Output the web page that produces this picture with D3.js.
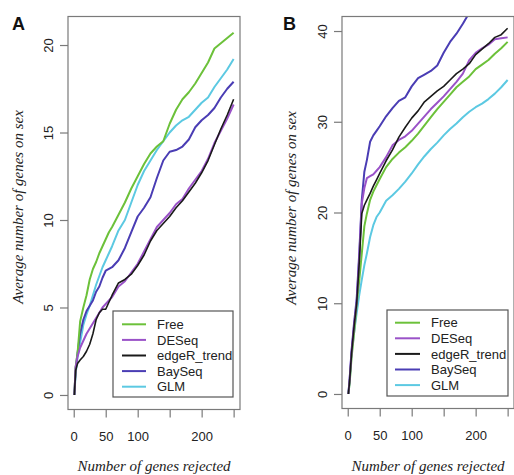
<!DOCTYPE html>
<html>
<head>
<meta charset="utf-8">
<script src="https://cdn.jsdelivr.net/npm/d3@7"></script>
<style>
  html, body { margin: 0; padding: 0; background: #fff; }
  svg { display: block; }
</style>
</head>
<body>
<svg id="chart" width="514" height="475"></svg>
<script>
// ---------------- DATA ----------------
const seriesNames = ["Free", "DESeq", "edgeR_trend", "BaySeq", "GLM"];
const seriesColors = ["#6cc13a", "#9a52c8", "#1a1a1a", "#4a3db4", "#5cc9e2"];

const xTicks = [0, 50, 100, 150, 200, 250];
const xTickLabels = ["0", "50", "100", "", "200", ""];
const yTicksA = [0, 5, 10, 15, 20];
const yTicksB = [0, 10, 20, 30, 40];

// Panel A: number of genes rejected
const xA = [1,3,6,10,15,20,25,30,35,40,45,50,55,60,70,80,90,100,110,120,130,140,150,160,170,180,190,200,210,220,230,240,250];
const freeA   = [0,1.6,2.4,4.2,5.0,5.7,6.6,7.2,7.6,8.1,8.5,8.9,9.3,9.6,10.3,11.0,11.8,12.5,13.2,13.8,14.2,14.5,15.5,16.3,16.9,17.3,17.8,18.4,19.0,19.8,20.1,20.4,20.7];
const deseqA  = [0,1.6,2.2,2.7,3.1,3.5,3.8,4.1,4.4,4.7,5.0,5.2,5.4,5.6,6.2,6.5,7.0,7.5,8.2,8.9,9.6,10.0,10.4,10.9,11.2,11.8,12.3,12.8,13.5,14.4,15.1,15.8,16.6];
const edgeRA  = [0,1.4,1.8,2.0,2.2,2.5,2.9,3.5,4.3,4.7,4.9,4.9,5.3,5.7,6.4,6.6,6.9,7.4,8.0,8.8,9.4,9.8,10.2,10.7,11.1,11.6,12.1,12.7,13.4,14.3,15.2,16.0,16.9];
const baySeqA = [0,1.5,2.4,3.5,4.3,4.8,5.1,5.4,5.9,6.2,6.7,7.1,7.2,7.3,7.7,8.4,9.3,10.2,10.7,11.3,12.4,13.4,13.9,14.0,14.2,14.6,15.3,15.7,16.0,16.4,17.0,17.5,17.9];
const glmA    = [0,1.2,2.2,3.0,4.0,4.6,5.1,5.7,6.3,6.8,7.3,7.7,8.1,8.5,9.4,10.0,11.0,12.0,12.8,13.4,14.0,14.5,15.0,15.4,15.7,15.9,16.3,16.7,17.0,17.6,18.1,18.6,19.2];

// Panel B
const xB = [1,3,6,10,14,18,22,26,30,35,40,45,50,60,70,80,90,100,110,120,130,140,150,160,170,180,190,200,210,220,230,240,250];
const freeB   = [0,1.2,4.0,6.8,9.8,12.5,15.5,18.5,19.9,21.4,22.3,23.0,23.7,25.0,25.9,26.6,27.2,27.9,28.7,29.6,30.5,31.4,32.2,33.0,33.8,34.4,35.0,35.8,36.3,36.8,37.5,38.1,38.8];
const deseqB  = [0,1.6,4.6,7.6,10.1,15.0,21.0,22.7,23.8,24.0,24.2,24.6,25.0,26.1,27.4,28.0,28.4,29.0,29.8,30.6,31.4,32.1,32.8,33.6,34.4,35.3,36.8,37.6,38.1,38.5,39.1,39.2,39.3];
const edgeRB  = [0,1.5,4.5,7.5,10.0,14.5,19.9,20.8,21.4,22.1,22.9,23.6,24.3,25.7,26.9,28.3,29.4,30.4,31.2,32.2,32.8,33.4,33.9,34.6,35.3,35.8,36.4,37.4,38.0,38.6,39.3,39.6,40.3];
const baySeqB = [0,1.7,4.8,7.9,10.5,15.5,21.4,24.5,25.8,27.8,28.5,29.0,29.5,30.6,31.5,32.3,32.7,33.9,34.8,35.2,35.6,36.2,37.6,38.8,39.7,40.8,42.0,null,null,null,null,null,null];
const glmB    = [0,1.3,4.4,6.8,8.9,10.9,12.6,14.2,15.5,17.3,18.6,19.5,20.0,21.3,21.9,22.6,23.4,24.3,25.3,26.2,27.0,27.7,28.5,29.2,29.8,30.5,31.1,31.6,32.0,32.5,33.1,33.8,34.6];

const yTitle = "Average number of genes on sex";
const xTitle = "Number of genes rejected";

// ---------------- DRAW ----------------
const svg = d3.select("#chart");
const axisColor = "#7a7a7a";
const textColor = "#222";

function panel(cfg) {
  const { id, left, right, top, bottom, xDomain, yDomain, xs, ys, yTicks, label, labelX, legend, yTitleX, yTitleY } = cfg;
  const x = d3.scaleLinear().domain(xDomain).range([left, right]);
  const y = d3.scaleLinear().domain(yDomain).range([bottom, top]);

  const g = svg.append("g");

  svg.append("clipPath").attr("id", "clip" + id)
    .append("rect").attr("x", left).attr("y", top)
    .attr("width", right - left).attr("height", bottom - top);

  const line = d3.line()
    .defined(d => d[1] !== null)
    .x(d => x(d[0])).y(d => y(d[1]));
  const lg = g.append("g").attr("clip-path", `url(#clip${id})`);
  const order = [4, 3, 0, 1, 2];
  order.forEach(i => {
    const pts = xs.map((xv, j) => [xv, ys[i][j]]);
    lg.append("path")
      .attr("d", line(pts))
      .attr("fill", "none")
      .attr("stroke", seriesColors[i])
      .attr("stroke-width", i === 2 ? 1.6 : 2)
      .attr("stroke-linejoin", "round");
  });

  g.append("rect")
    .attr("x", left).attr("y", top)
    .attr("width", right - left).attr("height", bottom - top)
    .attr("fill", "none").attr("stroke", axisColor).attr("stroke-width", 1.2);

  const xa = d3.axisBottom(x).tickValues(xTicks).tickSize(8)
    .tickFormat((d, i) => xTickLabels[i]);
  const xg = g.append("g").attr("transform", `translate(0,${bottom})`).call(xa);
  xg.select(".domain").remove();
  xg.selectAll(".tick line").attr("stroke", axisColor).attr("stroke-width", 1.2);
  xg.selectAll(".tick text")
    .attr("y", 31.5).attr("dy", 0)
    .attr("fill", textColor)
    .style("font-family", "'Liberation Sans', Arial, sans-serif")
    .style("font-size", "13px");

  const ya = d3.axisLeft(y).tickValues(yTicks).tickSize(8).tickFormat(d3.format("d"));
  const yg = g.append("g").attr("transform", `translate(${left},0)`).call(ya);
  yg.select(".domain").remove();
  yg.selectAll(".tick line").attr("stroke", axisColor).attr("stroke-width", 1.2);
  yg.selectAll(".tick text")
    .attr("transform", "rotate(-90)")
    .attr("x", 0).attr("y", -20).attr("dy", "0.35em")
    .attr("text-anchor", "middle")
    .attr("fill", textColor)
    .style("font-family", "'Liberation Sans', Arial, sans-serif")
    .style("font-size", "13px");

  g.append("text")
    .attr("transform", `translate(${yTitleX},${yTitleY}) rotate(-90)`)
    .attr("text-anchor", "middle").attr("dy", "0.35em")
    .attr("fill", textColor)
    .style("font-family", "'Liberation Serif', 'Times New Roman', serif")
    .style("font-style", "italic")
    .style("font-size", "15px")
    .text(yTitle);
  g.append("text")
    .attr("x", (left + right) / 2).attr("y", 470.5)
    .attr("text-anchor", "middle")
    .attr("fill", textColor)
    .style("font-family", "'Liberation Serif', 'Times New Roman', serif")
    .style("font-style", "italic")
    .style("font-size", "15px")
    .text(xTitle);

  g.append("text")
    .attr("x", labelX).attr("y", 30)
    .attr("fill", "#111")
    .style("font-family", "'Liberation Sans', Arial, sans-serif")
    .style("font-weight", "bold")
    .style("font-size", "18px")
    .text(label);

  const L = legend;
  g.append("rect")
    .attr("x", L.x0).attr("y", L.y0)
    .attr("width", L.x1 - L.x0).attr("height", L.y1 - L.y0)
    .attr("fill", "#fff").attr("stroke", "#555").attr("stroke-width", 1.2);
  seriesNames.forEach((name, i) => {
    const yy = L.firstY + i * L.step;
    g.append("line")
      .attr("x1", L.lx0).attr("x2", L.lx1).attr("y1", yy).attr("y2", yy)
      .attr("stroke", seriesColors[i]).attr("stroke-width", 2);
    g.append("text")
      .attr("x", L.tx).attr("y", yy).attr("dy", "0.36em")
      .attr("fill", textColor)
      .style("font-family", "'Liberation Sans', Arial, sans-serif")
      .style("font-size", "13px")
      .text(name);
  });
}

panel({
  id: "A", left: 68, right: 240, top: 16.5, bottom: 409.5,
  xDomain: [-8.96, 259.96], yDomain: [-0.83, 21.63],
  xs: xA, ys: [freeA, deseqA, edgeRA, baySeqA, glmA],
  yTicks: yTicksA, label: "A", labelX: 12,
  yTitleX: 18, yTitleY: 207,
  legend: { x0: 113, x1: 233, y0: 311, y1: 397, firstY: 324.3, step: 15.6, lx0: 122, lx1: 146, tx: 157 }
});

panel({
  id: "B", left: 342, right: 514, top: 16.5, bottom: 408.5,
  xDomain: [-8.96, 259.96], yDomain: [-1.6, 41.6],
  xs: xB, ys: [freeB, deseqB, edgeRB, baySeqB, glmB],
  yTicks: yTicksB, label: "B", labelX: 283,
  yTitleX: 291, yTitleY: 208,
  legend: { x0: 387, x1: 508, y0: 310, y1: 396, firstY: 322.7, step: 15.6, lx0: 395, lx1: 420, tx: 431 }
});
</script>
</body>
</html>
